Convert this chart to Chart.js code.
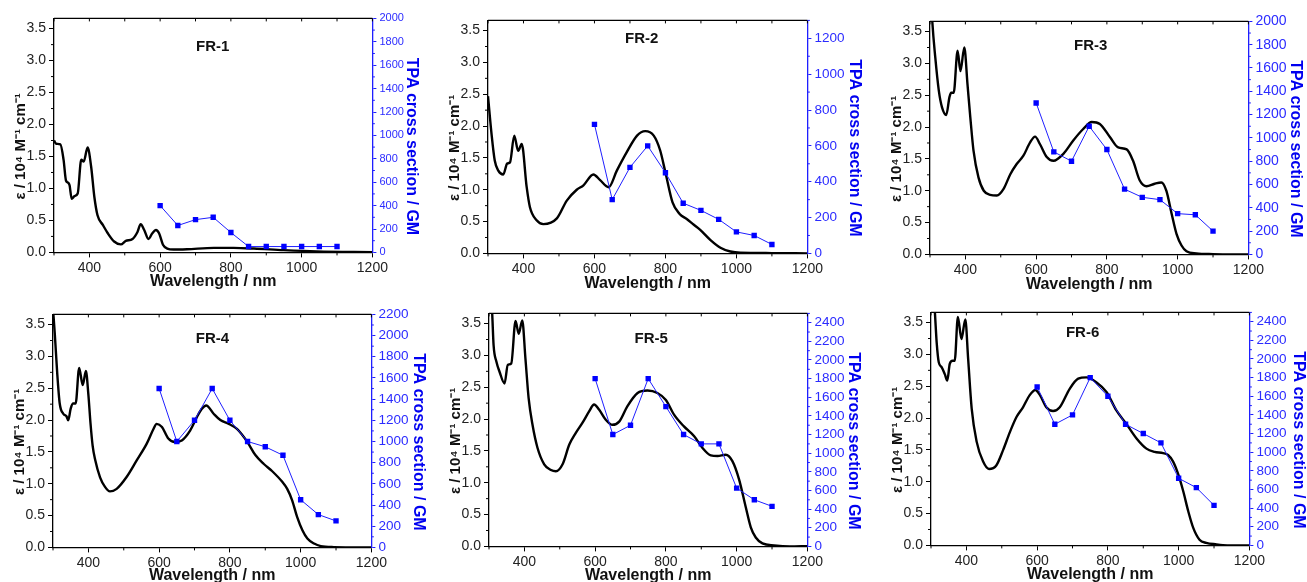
<!DOCTYPE html>
<html>
<head>
<meta charset="utf-8">
<script src="https://cdn.jsdelivr.net/npm/chart.js@4.4.1/dist/chart.umd.min.js"></script>
<style>
  html, body { margin: 0; padding: 0; background: #fff; overflow: hidden; }
  #wrap { position: relative; width: 1307px; height: 582px; overflow: hidden; }
  #wrap canvas { position: absolute; }
</style>
</head>
<body>
<div id="wrap"></div>
<script>
// TPA measurement wavelengths (nm), shared by all samples
const tpaWavelength = [600, 650, 700, 750, 800, 850, 900, 950, 1000, 1050, 1100];

// FR-1
const fr1Wavelength = [300, 306, 318, 327, 334, 340, 344, 350, 358, 367, 377, 384, 395, 405, 414, 423, 438, 452, 470, 489, 503, 522, 536, 545, 555, 567, 578, 588, 597, 608, 620, 638, 676, 752, 808, 865, 949, 1043, 1200];
const fr1Epsilon = [1.75, 1.70, 1.69, 1.45, 1.12, 1.09, 1.05, 0.84, 0.88, 0.92, 1.45, 1.42, 1.64, 1.34, 0.87, 0.58, 0.43, 0.30, 0.17, 0.125, 0.18, 0.21, 0.32, 0.44, 0.35, 0.21, 0.30, 0.35, 0.30, 0.12, 0.06, 0.045, 0.05, 0.07, 0.07, 0.06, 0.035, 0.015, 0.005];
const fr1Tpa = [400, 230, 280, 300, 170, 50, 50, 50, 50, 50, 50];

// FR-2
const fr2Wavelength = [300, 310, 319, 329, 343, 354, 362, 374, 385, 395, 409, 418, 437, 456, 494, 522, 550, 569, 597, 616, 640, 663, 691, 720, 743, 767, 785, 800, 820, 840, 860, 880, 898, 927, 955, 983, 1011, 1100, 1200];
const fr2Epsilon = [2.47, 1.875, 1.46, 1.30, 1.24, 1.41, 1.43, 1.85, 1.61, 1.72, 1.04, 0.73, 0.52, 0.46, 0.55, 0.83, 1.0, 1.07, 1.24, 1.15, 1.04, 1.30, 1.59, 1.85, 1.92, 1.85, 1.62, 1.27, 0.80, 0.62, 0.54, 0.45, 0.37, 0.21, 0.09, 0.03, 0.01, 0.005, 0];
const fr2Tpa = [720, 300, 480, 600, 450, 280, 240, 190, 120, 100, 50];

// FR-3
const fr3Wavelength = [300, 306, 315, 325, 334, 346, 355, 360, 367, 378, 386, 397, 406, 414, 423, 437, 452, 470, 489, 508, 527, 545, 564, 583, 597, 611, 630, 649, 677, 705, 733, 757, 780, 809, 832, 856, 874, 893, 912, 935, 954, 968, 983, 997, 1011, 1025, 1053, 1100, 1200];
const fr3Epsilon = [4.4, 3.7, 3.09, 2.57, 2.31, 2.19, 2.47, 2.54, 2.54, 3.20, 2.88, 3.25, 2.67, 2.15, 1.63, 1.21, 1.0, 0.935, 0.925, 1.03, 1.26, 1.42, 1.55, 1.76, 1.85, 1.73, 1.53, 1.47, 1.58, 1.79, 1.97, 2.08, 2.05, 1.84, 1.68, 1.65, 1.47, 1.16, 1.07, 1.11, 1.13, 1.0, 0.64, 0.32, 0.14, 0.05, 0.016, 0.005, 0];
const fr3Tpa = [1300, 880, 800, 1100, 900, 560, 490, 470, 350, 340, 200];

// FR-4
const fr4Wavelength = [300, 305, 312, 319, 329, 338, 343, 350, 357, 364, 374, 384, 393, 400, 406, 412, 419, 433, 447, 461, 480, 508, 537, 565, 584, 593, 608, 626, 645, 664, 688, 707, 721, 733, 754, 773, 797, 820, 850, 872, 896, 919, 948, 962, 976, 990, 1005, 1019, 1038, 1057, 1094, 1200];
const fr4Epsilon = [3.75, 3.36, 2.73, 2.26, 2.10, 2.06, 1.995, 2.18, 2.26, 2.26, 2.82, 2.55, 2.77, 2.40, 1.95, 1.60, 1.38, 1.10, 0.95, 0.88, 0.92, 1.105, 1.37, 1.63, 1.86, 1.94, 1.89, 1.71, 1.655, 1.68, 1.84, 2.05, 2.18, 2.23, 2.10, 2.0, 1.94, 1.86, 1.65, 1.45, 1.31, 1.20, 1.03, 0.92, 0.74, 0.48, 0.27, 0.14, 0.06, 0.02, 0.005, 0];
const fr4Tpa = [1500, 1000, 1200, 1500, 1200, 1000, 950, 870, 450, 310, 250];

// FR-5
const fr5Wavelength = [300, 309, 313, 321, 330, 344, 353, 363, 375, 384, 394, 403, 412, 423, 437, 456, 475, 489, 508, 527, 545, 564, 583, 597, 611, 630, 649, 668, 691, 720, 748, 776, 800, 823, 851, 880, 903, 927, 946, 969, 988, 1007, 1026, 1040, 1054, 1073, 1106, 1150, 1200];
const fr5Epsilon = [4.5, 3.66, 3.16, 2.90, 2.74, 2.56, 2.85, 2.875, 3.54, 3.34, 3.55, 2.95, 2.33, 1.91, 1.55, 1.29, 1.20, 1.18, 1.29, 1.60, 1.78, 1.94, 2.12, 2.23, 2.15, 1.99, 1.91, 1.96, 2.20, 2.41, 2.45, 2.41, 2.30, 2.07, 1.885, 1.73, 1.55, 1.43, 1.42, 1.44, 1.34, 1.05, 0.61, 0.30, 0.14, 0.047, 0.016, 0, 0.005];
const fr5Tpa = [1800, 1200, 1300, 1800, 1500, 1200, 1100, 1100, 625, 500, 430];

// FR-6
const fr6Wavelength = [300, 311, 316, 322, 330, 339, 346, 353, 361, 367, 376, 386, 397, 405, 415, 429, 447, 464, 485, 504, 523, 542, 560, 579, 595, 608, 626, 645, 664, 692, 716, 739, 768, 796, 824, 852, 881, 909, 932, 956, 970, 984, 998, 1013, 1027, 1041, 1059, 1078, 1107, 1125, 1150, 1200];
const fr6Epsilon = [4.5, 3.66, 3.19, 2.875, 2.80, 2.69, 2.59, 2.85, 2.90, 2.90, 3.59, 3.24, 3.55, 2.93, 2.15, 1.63, 1.32, 1.20, 1.26, 1.50, 1.78, 2.02, 2.17, 2.36, 2.44, 2.36, 2.17, 2.11, 2.17, 2.46, 2.62, 2.64, 2.56, 2.41, 2.12, 1.91, 1.68, 1.52, 1.47, 1.45, 1.42, 1.32, 1.13, 0.85, 0.54, 0.28, 0.09, 0.04, 0.016, 0.005, 0, 0];
const fr6Tpa = [1700, 1300, 1400, 1800, 1600, 1300, 1200, 1100, 720, 620, 430];

const xTicks = [400, 600, 800, 1000, 1200];
const epsTicks = [0, 0.5, 1.0, 1.5, 2.0, 2.5, 3.0, 3.5];

const FONT = '"Liberation Sans", Arial, Helvetica, sans-serif';
const BLUE = '#1f1fff';
const LEFT_W = 54;
const LEFT_TITLE = 'ε / 10⁴ M⁻¹ cm⁻¹';
const RIGHT_TITLE = 'TPA cross section / GM';

// layout of each panel: plot area [left, top, right, bottom] in page pixels
const panels = [
  { name: 'FR-1', wl: fr1Wavelength, eps: fr1Epsilon, tpa: fr1Tpa, tpaMax: 2000, area: [54, 17.3, 372.3, 252.3], rTitle: 39, xTitle: 29, rFont: 11, dx: -0.5, dy: 28 },
  { name: 'FR-2', wl: fr2Wavelength, eps: fr2Epsilon, tpa: fr2Tpa, tpaMax: 1300, area: [488.3, 19.3, 806.7, 253.3], rTitle: 47, xTitle: 30, rFont: 13.5, dx: -6, dy: 18.5 },
  { name: 'FR-3', wl: fr3Wavelength, eps: fr3Epsilon, tpa: fr3Tpa, tpaMax: 2000, area: [930, 20, 1248.3, 254], rTitle: 47, xTitle: 30, rFont: 14, dx: 1.5, dy: 24 },
  { name: 'FR-4', wl: fr4Wavelength, eps: fr4Epsilon, tpa: fr4Tpa, tpaMax: 2200, area: [52.7, 313.3, 370.7, 547], rTitle: 47, xTitle: 28, rFont: 13.5, dx: 0.3, dy: 24.5 },
  { name: 'FR-5', wl: fr5Wavelength, eps: fr5Epsilon, tpa: fr5Tpa, tpaMax: 2500, area: [488.7, 312.3, 806.7, 545.7], rTitle: 46, xTitle: 29, rFont: 13.5, dx: 3, dy: 25 },
  { name: 'FR-6', wl: fr6Wavelength, eps: fr6Epsilon, tpa: fr6Tpa, tpaMax: 2500, area: [931, 310.7, 1249.3, 544.3], rTitle: 49, xTitle: 29, rFont: 13.5, dx: -7.6, dy: 20 }
];

// frame top line, minor ticks, vertical axis titles and the sample label
const panelDecor = {
  id: 'panelDecor',
  afterDraw(chart, args, opts) {
    const { ctx, chartArea: a } = chart;
    const { x, y, y1 } = chart.scales;
    ctx.save();
    ctx.lineWidth = 1.2;
    ctx.strokeStyle = '#000';
    ctx.beginPath();
    ctx.moveTo(a.left, a.top);
    ctx.lineTo(a.right, a.top);
    ctx.stroke();

    ctx.lineWidth = 1;
    ctx.beginPath();
    for (let v = 300; v <= 1200; v += 100) {
      const px = x.getPixelForValue(v);
      ctx.moveTo(px, a.top);
      ctx.lineTo(px, a.top + 3);
      if (v % 200 !== 0) {
        ctx.moveTo(px, a.bottom);
        ctx.lineTo(px, a.bottom + 3);
      }
    }
    for (let v = 0.25; v < y.max; v += 0.5) {
      const py = y.getPixelForValue(v);
      ctx.moveTo(a.left, py);
      ctx.lineTo(a.left - 3, py);
    }
    ctx.stroke();

    ctx.strokeStyle = BLUE;
    ctx.beginPath();
    for (let v = 100; v <= y1.max; v += 200) {
      const py = y1.getPixelForValue(v);
      ctx.moveTo(a.right, py);
      ctx.lineTo(a.right + 2.5, py);
    }
    ctx.stroke();

    ctx.textAlign = 'center';
    ctx.textBaseline = 'middle';
    const midY = (a.top + a.bottom) / 2 + 11;

    ctx.save();
    ctx.translate(a.left - 33.4, midY);
    ctx.rotate(-Math.PI / 2);
    ctx.fillStyle = '#111';
    ctx.font = 'bold 15px ' + FONT;
    ctx.fillText(LEFT_TITLE, 0, 0);
    ctx.restore();

    ctx.save();
    ctx.translate(a.right + opts.rTitle, midY);
    ctx.rotate(Math.PI / 2);
    ctx.fillStyle = '#0000f0';
    ctx.font = 'bold 16px ' + FONT;
    ctx.fillText(RIGHT_TITLE, 0, 0);
    ctx.restore();

    ctx.fillStyle = '#111';
    ctx.font = 'bold 15px ' + FONT;
    ctx.fillText(opts.label, (a.left + a.right) / 2 + opts.dx, a.top + opts.dy);
    ctx.restore();
  }
};

function makePanel(p) {
  const [l, t, r, b] = p.area;
  const rightW = p.rTitle + 9.6;
  const xH = p.xTitle + 9.6;
  const padTop = 10;
  const w = Math.ceil(LEFT_W + (r - l) + rightW + 2);
  const h = Math.ceil(padTop + (b - t) + xH + 2);

  const canvas = document.createElement('canvas');
  canvas.width = w;
  canvas.height = h;
  canvas.style.left = (l - LEFT_W) + 'px';
  canvas.style.top = (t - padTop) + 'px';
  canvas.style.width = w + 'px';
  canvas.style.height = h + 'px';
  document.getElementById('wrap').appendChild(canvas);

  const tpaTicks = [];
  for (let v = 0; v <= p.tpaMax; v += 200) tpaTicks.push(v);

  new Chart(canvas.getContext('2d'), {
    type: 'line',
    data: {
      datasets: [
        {
          label: 'TPA',
          data: tpaWavelength.map((x, i) => ({ x, y: p.tpa[i] })),
          yAxisID: 'y1',
          borderColor: BLUE,
          borderWidth: 1,
          pointStyle: 'rect',
          pointRadius: 3.8,
          pointBackgroundColor: '#0000ff',
          pointBorderWidth: 0,
          tension: 0,
          order: 0
        },
        {
          label: 'Absorption',
          data: p.wl.map((x, i) => ({ x, y: p.eps[i] })),
          yAxisID: 'y',
          borderColor: '#000',
          borderWidth: 2.4,
          pointRadius: 0,
          cubicInterpolationMode: 'monotone',
          order: 1
        }
      ]
    },
    options: {
      responsive: false,
      maintainAspectRatio: false,
      animation: false,
      events: [],
      layout: { padding: { top: padTop, left: 0, right: 2, bottom: 2 } },
      plugins: {
        legend: { display: false },
        tooltip: { enabled: false },
        panelDecor: { label: p.name, dx: p.dx, dy: p.dy, rTitle: p.rTitle }
      },
      scales: {
        x: {
          type: 'linear',
          min: 300,
          max: 1200,
          afterBuildTicks: scale => { scale.ticks = xTicks.map(v => ({ value: v })); },
          afterFit: scale => { scale.height = xH; },
          grid: { display: true, drawOnChartArea: false, drawTicks: true, tickLength: 5, tickColor: '#000', tickWidth: 1 },
          border: { display: true, color: '#000', width: 1.3 },
          ticks: { color: '#222', font: { family: FONT, size: 14 }, padding: 2.5, maxRotation: 0, callback: v => String(v) },
          title: { display: true, text: 'Wavelength / nm', color: '#111', font: { family: FONT, size: 16, weight: 'bold' }, padding: { top: 0, bottom: 0 } }
        },
        y: {
          position: 'left',
          min: 0,
          max: 3.66,
          afterBuildTicks: scale => { scale.ticks = epsTicks.map(v => ({ value: v })); },
          afterFit: scale => { scale.width = LEFT_W; },
          grid: { display: true, drawOnChartArea: false, drawTicks: true, tickLength: 5, tickColor: '#000', tickWidth: 1 },
          border: { display: true, color: '#000', width: 1.3 },
          ticks: { color: '#222', font: { family: FONT, size: 14 }, padding: 3, callback: v => v.toFixed(1) }
        },
        y1: {
          position: 'right',
          min: 0,
          max: p.tpaMax,
          afterBuildTicks: scale => { scale.ticks = tpaTicks.map(v => ({ value: v })); },
          afterFit: scale => { scale.width = rightW; },
          grid: { display: true, drawOnChartArea: false, drawTicks: true, tickLength: 4, tickColor: BLUE, tickWidth: 1 },
          border: { display: true, color: BLUE, width: 1.3 },
          ticks: { color: '#2b2bff', font: { family: FONT, size: p.rFont }, padding: 3, callback: v => String(v) }
        }
      }
    },
    plugins: [panelDecor]
  });
}

panels.forEach(makePanel);
</script>
</body>
</html>
